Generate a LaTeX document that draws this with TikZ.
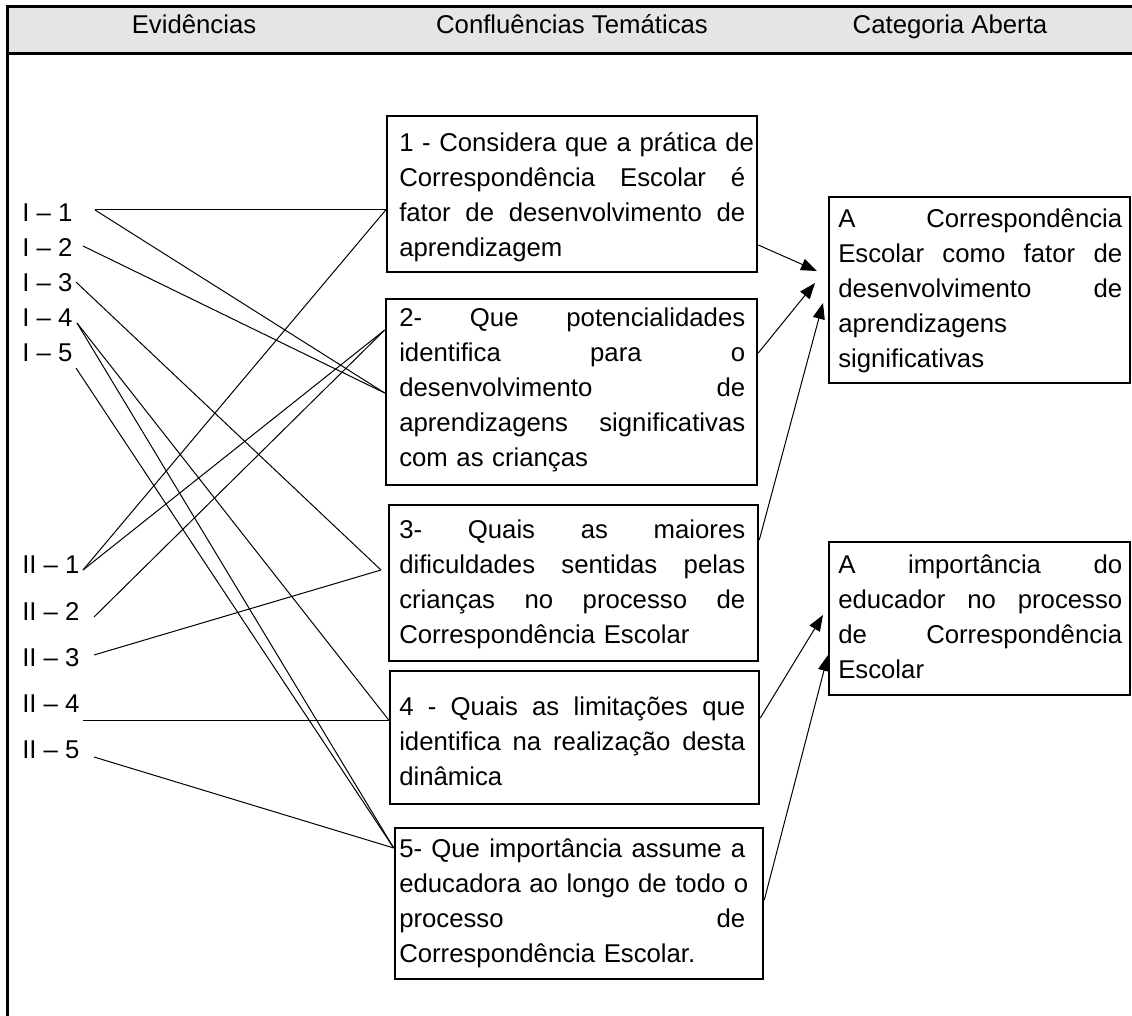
\documentclass[tikz,border=0pt]{standalone}
\usepackage{fontspec}
\setmainfont{Liberation Sans}
\usetikzlibrary{arrows.meta,fit}
\newcommand\jl[1]{\leavevmode\hbox to 259.5pt{#1}\\}
\newcommand\jr[1]{\leavevmode\hbox to 213pt{#1}\\}
\begin{document}
\begin{tikzpicture}[x=0.75pt,y=-0.75pt,
  every node/.style={font=\fontsize{19.3}{26.25}\selectfont},
  box/.style={draw,line width=1.9pt,inner sep=0pt},
  txt/.style={anchor=base west,inner sep=0pt,text width=259.5pt,align=left},
  txtr/.style={anchor=base west,inner sep=0pt,text width=213pt,align=left},
  lab/.style={anchor=base west,inner sep=0pt},
  hd/.style={anchor=base,inner sep=0pt},
  con/.style={line width=0.75pt},
  arr/.style={line width=0.75pt,-{Triangle[length=12pt,width=9pt]}}]
\useasboundingbox (0,0) rectangle (1132,1016);
% header
\fill[black!10] (7,7) rectangle (1132,54);
\draw[line width=2.25pt] (1132,7) -- (7,7) -- (7,1016);
\draw[line width=2.25pt] (7,54) -- (1132,54);
\node[hd] (h1) at (194,34) {Evidências};
\node[hd] (h2) at (572,34) {Confluências Temáticas};
\node[hd] (h3) at (950,34) {Categoria Aberta};
% boxes
\node[box,fit={(387,116) (757,272)}] (b1) {};
\node[box,fit={(386,299) (757,485)}] (b2) {};
\node[box,fit={(389,505) (758,661)}] (b3) {};
\node[box,fit={(390,671) (759,804)}] (b4) {};
\node[box,fit={(395,828) (763,979)}] (b5) {};
\node[box,fit={(829,197) (1130,383)}] (bA) {};
\node[box,fit={(829,542) (1130,695)}] (bB) {};
% box texts
\node[txt] (t1) at (399,152) {\jl{1 \hfill - \hfill Considera \hfill que \hfill a \hfill prática \hfill de}\jl{Correspondência \hfill Escolar \hfill é}\jl{fator \hfill de \hfill desenvolvimento \hfill de}aprendizagem};
\node[txt] (t2) at (399,327) {\jl{2- \hfill Que \hfill potencialidades}\jl{identifica \hfill para \hfill o}\jl{desenvolvimento \hfill de}\jl{aprendizagens \hfill significativas}com as crianças};
\node[txt] (t3) at (399,538) {\jl{3- \hfill Quais \hfill as \hfill maiores}\jl{dificuldades \hfill sentidas \hfill pelas}\jl{crianças \hfill no \hfill processo \hfill de}Correspondência Escolar};
\node[txt] (t4) at (399,715) {\jl{4 \hfill - \hfill Quais \hfill as \hfill limitações \hfill que}\jl{identifica \hfill na \hfill realização \hfill desta}dinâmica};
\node[txt] (t5) at (399,857) {\jl{5- \hfill Que \hfill importância \hfill assume \hfill a}\jl{educadora \hfill ao \hfill longo \hfill de \hfill todo \hfill o}\jl{processo \hfill de}Correspondência Escolar.};
\node[txtr] (tA) at (838,228) {\jr{A \hfill Correspondência}\jr{Escolar \hfill como \hfill fator \hfill de}\jr{desenvolvimento \hfill de}aprendizagens\\significativas};
\node[txtr] (tB) at (838,573) {\jr{A \hfill importância \hfill do}\jr{educador \hfill no \hfill processo}\jr{de \hfill Correspondência}Escolar};
% left labels
\node[lab] (lI1) at (22,222) {I – 1};
\node[lab] (lI2) at (22,257) {I – 2};
\node[lab] (lI3) at (22,292) {I – 3};
\node[lab] (lI4) at (22,327) {I – 4};
\node[lab] (lI5) at (22,362) {I – 5};
\node[lab] (lII1) at (22,573) {II – 1};
\node[lab] (lII2) at (22,620) {II – 2};
\node[lab] (lII3) at (22,666) {II – 3};
\node[lab] (lII4) at (22,712) {II – 4};
\node[lab] (lII5) at (22,758) {II – 5};
% connector ends at labels
\coordinate (sI1) at (95,210);
\coordinate (sI2) at (83,246);
\coordinate (sI3) at (76,282);
\coordinate (sI4) at (77,323);
\coordinate (sI5) at (76,368);
\coordinate (sII1) at (83,570);
\coordinate (sII2) at (94,617);
\coordinate (sII3) at (94,655);
\coordinate (sII4) at (83,720);
\coordinate (sII5) at (94,757);
% connector ends at boxes
\coordinate (e1) at (b1.west |- 0,210);
\coordinate (e2a) at (b2.west |- 0,330);
\coordinate (e2b) at (b2.west |- 0,393);
\coordinate (e3) at (381,570);
\coordinate (e4) at (b4.west |- 0,720);
\coordinate (e5) at (b5.west |- 0,848);
% connectors
\draw[con] (sI1) -- (e1);
\draw[con] (sI1) -- (e2b);
\draw[con] (sI2) -- (e2b);
\draw[con] (sI3) -- (e3);
\draw[con] (sI4) -- (e4);
\draw[con] (sI4) -- (e5);
\draw[con] (sI5) -- (e5);
\draw[con] (sII1) -- (e1);
\draw[con] (sII1) -- (e2a);
\draw[con] (sII2) -- (e2a);
\draw[con] (sII3) -- (e3);
\draw[con] (sII4) -- (e4);
\draw[con] (sII5) -- (e5);
% arrows to categories
\coordinate (A1) at (817,271);
\coordinate (A2) at (815,283);
\coordinate (A3) at (823,303);
\coordinate (B1) at (823,615);
\coordinate (B2) at (828,655);
\draw[arr] (b1.east |- 0,245) -- (A1);
\draw[arr] (b2.east |- 0,353) -- (A2);
\draw[arr] (b3.east |- 0,540) -- (A3);
\draw[arr] (b4.east |- 0,718) -- (B1);
\draw[arr] (b5.east |- 0,900) -- (B2);
\end{tikzpicture}
\end{document}
